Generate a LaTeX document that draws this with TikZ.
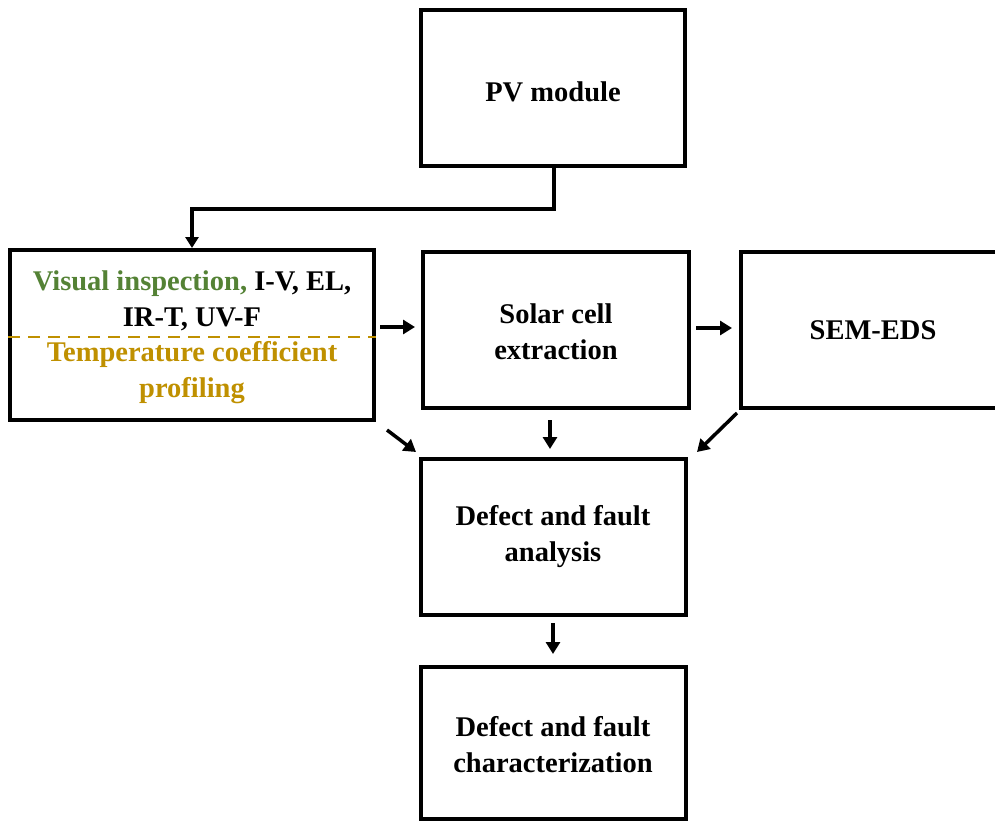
\documentclass[tikz,border=0pt]{standalone}
\usepackage{fontspec}
\setmainfont{Liberation Serif}
\usetikzlibrary{arrows.meta}
\definecolor{vgreen}{HTML}{548235}
\definecolor{tgold}{HTML}{BF9000}
\begin{document}
\begin{tikzpicture}[x=1pt,y=-1pt,
  box/.style={draw=black,line width=4pt,rectangle,inner sep=0pt},
  lbl/.style={font=\fontsize{28.5}{36}\selectfont\bfseries,align=center,inner sep=0pt},
  conn/.style={line width=3.5pt,-{Triangle[length=12pt,width=14pt]}}]
\useasboundingbox (0,0) rectangle (995,822);
\node[box,minimum width=264pt,minimum height=156pt] (pv) at (553,88) {};
\node[lbl] at (553,92) {PV module};
\node[box,minimum width=364pt,minimum height=170pt] (vis) at (192,335) {};
\node[lbl] (vt) at (192,301) {\textcolor{vgreen}{Visual inspection,} I-V, EL,\\IR-T, UV-F};
\node[lbl,text=tgold] (tc) at (192,373) {Temperature coefficient\\profiling};
\draw[tgold,line width=2.5pt,dash pattern=on 12pt off 8pt] (vis.west |- 0,337) -- (vis.east |- 0,337);
\node[box,minimum width=266pt,minimum height=156pt] (sol) at (556,330) {};
\node[lbl] at (556,332) {Solar cell\\extraction};
\node[box,minimum width=270pt,minimum height=156pt] (sem) at (876,330) {};
\node[lbl] at (873,330) {SEM-EDS};
\node[box,minimum width=265pt,minimum height=156pt] (def) at (553,537) {};
\node[lbl] at (553,537) {Defect and fault\\analysis};
\node[box,minimum width=265pt,minimum height=152pt] (chr) at (553,743) {};
\node[lbl] at (553,745) {Defect and fault\\characterization};
\coordinate (a1) at (554,209);
\coordinate (a2) at (192,209);
\draw[line width=3.5pt,-{Triangle[length=11pt,width=13pt]}] (pv.south -| a1) -- (a1) -- (a2) -- (vis.north -| a2);
\coordinate (b1) at (380,327); \coordinate (b2) at (415,327);
\draw[conn] (b1) -- (b2);
\coordinate (c1) at (696,328); \coordinate (c2) at (732,328);
\draw[conn] (c1) -- (c2);
\coordinate (d1) at (387,430); \coordinate (d2) at (416,452);
\draw[conn] (d1) -- (d2);
\coordinate (e1) at (550,420); \coordinate (e2) at (550,449);
\draw[conn] (e1) -- (e2);
\coordinate (f1) at (737,413); \coordinate (f2) at (697,452);
\draw[conn] (f1) -- (f2);
\coordinate (g1) at (553,623); \coordinate (g2) at (553,654);
\draw[conn] (g1) -- (g2);
\end{tikzpicture}
\end{document}
